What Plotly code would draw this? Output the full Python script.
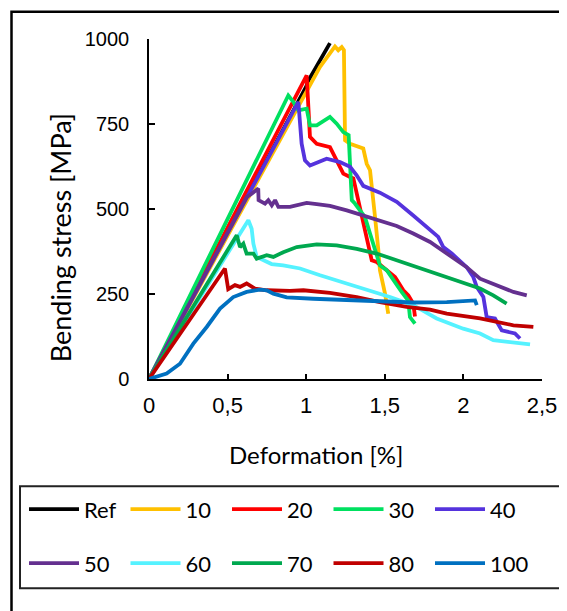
import plotly.graph_objects as go

# ---------------- data ----------------
series_names = ["Ref", "10", "20", "30", "40", "50", "60", "70", "80", "100"]
series_colors = ["#000000", "#FFC000", "#FF0000", "#00E060", "#5533DD",
                 "#64308F", "#55F2FF", "#00A84F", "#C00000", "#0070C0"]

ref_x = [0, 0.5, 1.0, 1.014, 1.045, 1.088, 1.151]
ref_y = [0, 430, 860, 878, 903, 937, 988]

s10_x = [0, 0.5, 1.045, 1.088, 1.183, 1.204, 1.226, 1.240, 1.247, 1.279, 1.363, 1.385,
         1.406, 1.416, 1.438, 1.459, 1.469, 1.501, 1.522]
s10_y = [0, 421, 880, 918, 978, 967, 976, 967, 702, 692, 678, 633,
         614, 575, 476, 379, 320, 252, 192]

s20_x = [0, 0.5, 0.94, 1.003, 1.024, 1.067, 1.151, 1.194, 1.236, 1.279, 1.30, 1.331,
         1.363, 1.385, 1.417, 1.448, 1.533, 1.565, 1.618, 1.650, 1.681, 1.692]
s20_y = [0, 445, 837, 893, 712, 692, 682, 643, 604, 594, 590, 526,
         457, 407, 349, 344, 310, 300, 261, 246, 222, 184]

s30_x = [0, 0.5, 0.886, 0.918, 0.95, 1.003, 1.024, 1.067, 1.151, 1.194, 1.236, 1.27,
         1.278, 1.29, 1.31, 1.374, 1.406, 1.438, 1.469, 1.512, 1.554, 1.607, 1.649,
         1.660, 1.692]
s30_y = [0, 471, 834, 815, 790, 795, 746, 746, 771, 751, 726, 717,
         620, 526, 516, 476, 428, 379, 334, 320, 290, 256, 231,
         182, 163]

s40_x = [0, 0.5, 0.95, 0.971, 0.992, 1.024, 1.130, 1.215, 1.279, 1.321, 1.363, 1.469,
         1.576, 1.681, 1.745, 1.840, 1.872, 1.926, 2.021, 2.063, 2.085, 2.127, 2.148,
         2.201, 2.244, 2.328, 2.360]
s40_y = [0, 429, 815, 692, 643, 628, 648, 638, 624, 599, 568, 548,
         521, 481, 457, 418, 388, 369, 329, 300, 271, 241, 182,
         178, 143, 134, 119]

s50_x = [0, 0.621, 0.653, 0.695, 0.697, 0.738, 0.759, 0.781, 0.802, 0.823, 0.897, 1.003,
         1.067, 1.151, 1.258, 1.363, 1.469, 1.576, 1.681, 1.788, 1.894, 2.021, 2.106,
         2.211, 2.318, 2.403]
s50_y = [0, 535, 545, 560, 526, 516, 526, 511, 526, 506, 506, 518,
         514, 509, 496, 481, 467, 450, 428, 403, 369, 329, 295,
         276, 256, 246]

s60_x = [0, 0.632, 0.653, 0.664, 0.685, 0.727, 0.78, 0.854, 0.961, 1.088, 1.258, 1.406,
         1.533, 1.681, 1.830, 1.999, 2.106, 2.190, 2.318, 2.424]
s60_y = [0, 467, 442, 398, 359, 350, 338, 334, 325, 305, 281, 261,
         241, 217, 178, 148, 134, 114, 106, 102]

s70_x = [0, 0.558, 0.579, 0.600, 0.621, 0.664, 0.685, 0.749, 0.791, 0.854, 0.940, 1.067,
         1.194, 1.321, 1.448, 1.576, 1.681, 1.788, 1.894, 1.999, 2.106, 2.190, 2.275]
s70_y = [0, 423, 388, 398, 369, 369, 354, 364, 359, 373, 388, 396,
         393, 383, 369, 349, 334, 318, 300, 285, 266, 246, 222]

s80_x = [0, 0.483, 0.504, 0.547, 0.579, 0.621, 0.674, 0.749, 0.897, 0.982, 1.151, 1.321,
         1.469, 1.639, 1.788, 1.894, 2.106, 2.318, 2.445]
s80_y = [0, 325, 264, 276, 271, 281, 266, 261, 259, 261, 253, 241,
         226, 212, 204, 192, 178, 158, 153]

s100_x = [0, 0.049, 0.112, 0.197, 0.282, 0.367, 0.452, 0.536, 0.621, 0.706, 0.749, 0.791,
          0.876, 1.045, 1.258, 1.469, 1.681, 1.894, 2.074, 2.085]
s100_y = [0, 6, 16, 45, 104, 153, 207, 241, 256, 263, 261, 251,
          240, 236, 233, 229, 225, 226, 231, 217]

x_tick_vals = [0, 0.5, 1, 1.5, 2, 2.5]
x_tick_text = ["0", "0,5", "1", "1,5", "2", "2,5"]
y_tick_vals = [0, 250, 500, 750, 1000]
y_tick_text = ["0", "250", "500", "750", "1000"]

x_title = "Deformation [%]"
y_title = "Bending stress [MPa]"

all_x = [ref_x, s10_x, s20_x, s30_x, s40_x, s50_x, s60_x, s70_x, s80_x, s100_x]
all_y = [ref_y, s10_y, s20_y, s30_y, s40_y, s50_y, s60_y, s70_y, s80_y, s100_y]

# ---------------- figure ----------------
W, H = 567, 611
OFF = 8  # the page places the figure 8 px in from the top-left corner
PX_LEFT, PX_RIGHT, PX_TOP, PX_BOTTOM = 149, 542, 38.7, 378.7  # plot area in window pixels
L = PX_LEFT - OFF
T = PX_TOP - OFF
R = W - (PX_RIGHT - OFF)
B = H - (PX_BOTTOM - OFF)
PW, PH = W - L - R, H - T - B


def px2paper_x(px):
    return (px - OFF - L) / PW


def px2paper_y(py):
    return (H - B - (py - OFF)) / PH


fig = go.Figure()
for i, (nm, col, xs, ys) in enumerate(zip(series_names, series_colors, all_x, all_y)):
    fig.add_trace(go.Scatter(
        x=xs, y=ys, mode="lines", name=nm,
        line=dict(color=col, width=3.8),
        legend="legend" if i < 5 else "legend2",
    ))

leg_common = dict(
    orientation="h", bgcolor="rgba(0,0,0,0)", borderwidth=0,
    font=dict(family="Lato", size=22, color="#000000"),
    entrywidth=36.5, entrywidthmode="pixels", itemwidth=50,
    xanchor="left", yanchor="middle", tracegroupgap=0,
)

fig.update_layout(
    width=W, height=H,
    margin=dict(l=L, r=R, t=T, b=B, pad=0, autoexpand=False),
    paper_bgcolor="white", plot_bgcolor="white",
    showlegend=True,
    legend=dict(x=px2paper_x(24), y=px2paper_y(509), **leg_common),
    legend2=dict(x=px2paper_x(24), y=px2paper_y(563), **leg_common),
    xaxis=dict(
        range=[0, 2.5], tickvals=x_tick_vals, ticktext=x_tick_text,
        ticks="inside", ticklen=5, tickwidth=1.5, tickcolor="#000000",
        showline=True, linecolor="#000000", linewidth=1.5,
        showgrid=False, zeroline=False,
        tickfont=dict(family="Liberation Sans", size=22, color="#000000"),
        ticklabelstandoff=6,
    ),
    yaxis=dict(
        range=[0, 1000], tickvals=y_tick_vals, ticktext=y_tick_text,
        ticks="inside", ticklen=6, tickwidth=1.5, tickcolor="#000000",
        showline=True, linecolor="#000000", linewidth=1.5,
        showgrid=False, zeroline=False,
        tickfont=dict(family="Liberation Sans", size=20, color="#000000"),
        ticklabelstandoff=14,
    ),
    annotations=[
        dict(text=x_title, xref="paper", yref="paper",
             x=px2paper_x(316), y=px2paper_y(454), showarrow=False,
             xanchor="center", yanchor="middle",
             font=dict(family="Lato", size=24, color="#000000")),
        dict(text=y_title, xref="paper", yref="paper",
             x=px2paper_x(60), y=px2paper_y(238), showarrow=False,
             textangle=-90, xanchor="center", yanchor="middle",
             font=dict(family="Lato", size=27, color="#000000")),
    ],
    shapes=[
        # outer frame (extends past the right/bottom edges)
        dict(type="rect", xref="paper", yref="paper", layer="below",
             x0=px2paper_x(11.5), y0=px2paper_y(640), x1=px2paper_x(620), y1=px2paper_y(11.5),
             line=dict(color="#000000", width=2.5), fillcolor="rgba(0,0,0,0)"),
        # legend box
        dict(type="rect", xref="paper", yref="paper", layer="below",
             x0=px2paper_x(20), y0=px2paper_y(588), x1=px2paper_x(620), y1=px2paper_y(486),
             line=dict(color="#222222", width=2), fillcolor="rgba(0,0,0,0)"),
    ],
)

fig.write_html("out.html")
